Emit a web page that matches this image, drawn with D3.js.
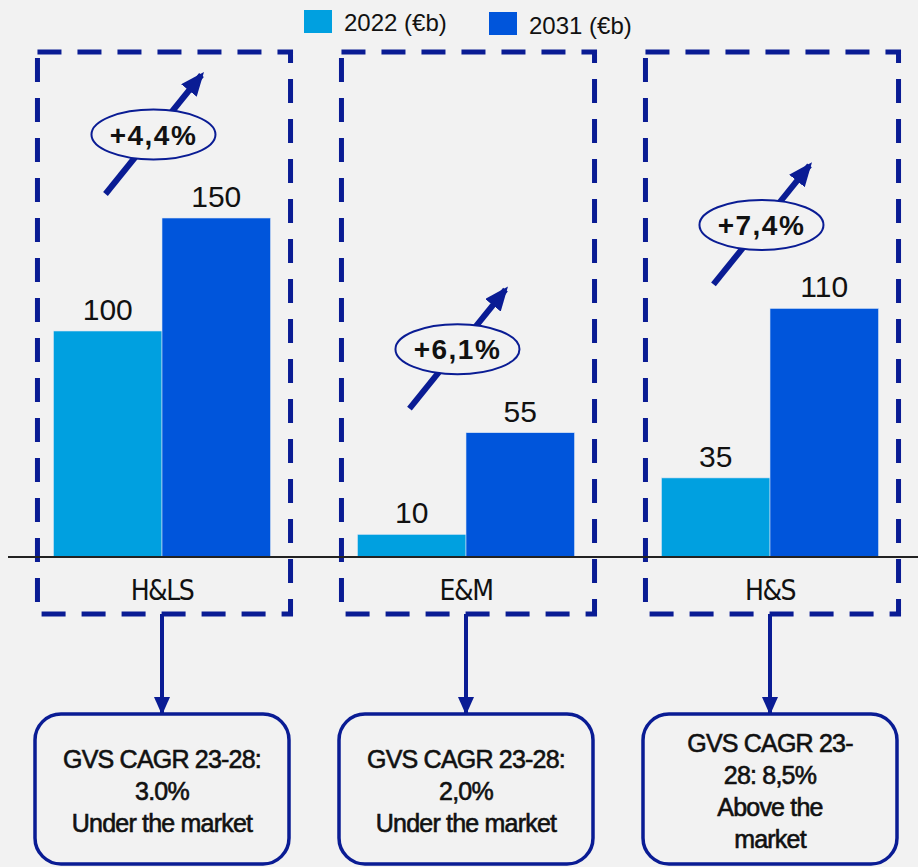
<!DOCTYPE html>
<html>
<head>
<meta charset="utf-8">
<script src="https://cdn.jsdelivr.net/npm/d3@7"></script>
<style>
  body { margin: 0; background: #f2f2f2; }
  svg { display: block; }
</style>
</head>
<body>
<svg id="chart"></svg>
<script>
const categories = ['H&LS', 'E&M', 'H&S'];
const seriesNames = ['2022 (€b)', '2031 (€b)'];
const values2022 = [100, 10, 35];
const values2031 = [150, 55, 110];
const cagrLabels = ['+4,4%', '+6,1%', '+7,4%'];
const gvsNotes = [
  ['GVS CAGR 23-28:', '3.0%', 'Under the market'],
  ['GVS CAGR 23-28:', '2,0%', 'Under the market'],
  ['GVS CAGR 23-', '28: 8,5%', 'Above the', 'market'],
];

const width = 918;
const height = 867;
const navy = '#0a1c94';
const colors = ['#00a0e0', '#0055db'];
const numFont = '"Liberation Sans", Arial, sans-serif';
const narrowFont = '"Liberation Sans Narrow", "Arial Narrow", "DejaVu Sans Condensed", sans-serif';

const svg = d3.select('#chart').attr('width', width).attr('height', height);

const baseY = 557;
const x = d3.scaleBand().domain(categories).range([10, 922]).paddingInner(0.286).paddingOuter(0.143);
const xSub = d3.scaleBand().domain(seriesNames).range([0, x.bandwidth()]);
const y = d3.scaleLinear().domain([0, 150]).range([baseY, baseY - 339]);

const rows = categories.map((c, i) => ({
  cat: c,
  vals: [values2022[i], values2031[i]],
  cagr: cagrLabels[i],
  note: gvsNotes[i],
}));

// legend
const legend = svg.append('g');
const legendX = [304, 489];
seriesNames.forEach((s, i) => {
  legend.append('rect')
    .attr('x', legendX[i]).attr('y', 10 + i * 2)
    .attr('width', 28).attr('height', 23)
    .attr('fill', colors[i]);
  legend.append('text')
    .attr('x', legendX[i] + 40).attr('y', 31 + i * 3)
    .style('font-family', numFont).style('font-size', '24px')
    .attr('fill', '#111')
    .text(s);
});

// bars
const groups = svg.selectAll('g.grp')
  .data(rows)
  .join('g')
  .attr('class', 'grp')
  .attr('transform', d => `translate(${x(d.cat)},0)`);

groups.selectAll('rect.bar')
  .data(d => d.vals.map((v, i) => ({v, s: seriesNames[i], i})))
  .join('rect')
  .attr('class', 'bar')
  .attr('x', d => xSub(d.s))
  .attr('y', d => y(d.v))
  .attr('width', xSub.bandwidth())
  .attr('height', d => baseY - y(d.v))
  .attr('fill', d => colors[d.i])
  .attr('stroke', '#d8e4f5')
  .attr('stroke-width', 0.6);

groups.selectAll('text.val')
  .data(d => d.vals.map((v, i) => ({v, s: seriesNames[i]})))
  .join('text')
  .attr('class', 'val')
  .attr('x', d => xSub(d.s) + xSub.bandwidth() / 2)
  .attr('y', d => y(d.v) - 11)
  .attr('text-anchor', 'middle')
  .style('font-family', numFont).style('font-size', '30px')
  .attr('fill', '#111')
  .text(d => d.v);

// baseline
svg.append('line')
  .attr('x1', 8).attr('x2', width)
  .attr('y1', baseY).attr('y2', baseY)
  .attr('stroke', '#222').attr('stroke-width', 2);

// category labels
groups.append('text')
  .attr('x', x.bandwidth() / 2)
  .attr('y', 600)
  .attr('text-anchor', 'middle')
  .style('font-family', narrowFont).style('font-size', '28px')
  .style('letter-spacing', '-1.5px')
  .attr('fill', '#111')
  .text(d => d.cat);

// dashed frames
groups.append('rect')
  .attr('x', -16).attr('y', 52)
  .attr('width', x.bandwidth() + 36)
  .attr('height', 562)
  .attr('fill', 'none')
  .attr('stroke', navy)
  .attr('stroke-width', 5)
  .attr('stroke-dasharray', '24,16');

// growth arrows
const defs = svg.append('defs');
defs.append('marker')
  .attr('id', 'head')
  .attr('markerUnits', 'userSpaceOnUse')
  .attr('viewBox', '0 0 24 20')
  .attr('refX', 20).attr('refY', 10)
  .attr('markerWidth', 24).attr('markerHeight', 20)
  .attr('orient', 'auto')
  .append('path').attr('d', 'M0,0 L24,10 L0,20 Z').attr('fill', navy);

const arrow = d => {
  const top = y(d3.max(d.vals));
  return {x1: 52, y1: top - 24, x2: 148, y2: top - 143};
};
groups.append('line')
  .attr('x1', d => arrow(d).x1).attr('y1', d => arrow(d).y1)
  .attr('x2', d => arrow(d).x2).attr('y2', d => arrow(d).y2)
  .attr('stroke', navy).attr('stroke-width', 6)
  .attr('marker-end', 'url(#head)');

groups.append('ellipse')
  .attr('cx', d => (arrow(d).x1 + arrow(d).x2) / 2)
  .attr('cy', d => (arrow(d).y1 + arrow(d).y2) / 2)
  .attr('rx', 62).attr('ry', 25)
  .attr('fill', '#f2f2f2')
  .attr('stroke', navy).attr('stroke-width', 2);

groups.append('text')
  .attr('x', d => (arrow(d).x1 + arrow(d).x2) / 2)
  .attr('y', d => (arrow(d).y1 + arrow(d).y2) / 2 + 10)
  .attr('text-anchor', 'middle')
  .style('font-family', numFont).style('font-size', '28px')
  .style('font-weight', 'bold').style('letter-spacing', '1.5px')
  .attr('fill', '#111')
  .text(d => d.cagr);

// down arrows to notes
defs.append('marker')
  .attr('id', 'head2')
  .attr('markerUnits', 'userSpaceOnUse')
  .attr('viewBox', '0 0 18 16')
  .attr('refX', 16).attr('refY', 8)
  .attr('markerWidth', 18).attr('markerHeight', 16)
  .attr('orient', 'auto')
  .append('path').attr('d', 'M0,0 L18,8 L0,16 Z').attr('fill', navy);

groups.append('line')
  .attr('x1', x.bandwidth() / 2).attr('x2', x.bandwidth() / 2)
  .attr('y1', 614).attr('y2', 713)
  .attr('stroke', navy).attr('stroke-width', 4)
  .attr('marker-end', 'url(#head2)');

// note boxes
groups.append('rect')
  .attr('x', x.bandwidth() / 2 - 127).attr('y', 714)
  .attr('width', 254).attr('height', 150)
  .attr('rx', 26)
  .attr('fill', 'none')
  .attr('stroke', navy).attr('stroke-width', 3.5);

groups.each(function(d) {
  const n = d.note.length;
  const lh = 32;
  const startY = 770 - ((n - 3) * lh) / 2 - 2;
  d3.select(this).append('text')
    .attr('text-anchor', 'middle')
    .style('font-family', numFont).style('font-size', '25px')
    .attr('stroke', '#111').attr('stroke-width', 0.6)
    .style('letter-spacing', '-0.8px')
    .attr('fill', '#111')
    .selectAll('tspan')
    .data(d.note)
    .join('tspan')
    .attr('x', x.bandwidth() / 2)
    .attr('y', (t, i) => startY + i * lh)
    .text(t => t);
});
</script>
</body>
</html>
